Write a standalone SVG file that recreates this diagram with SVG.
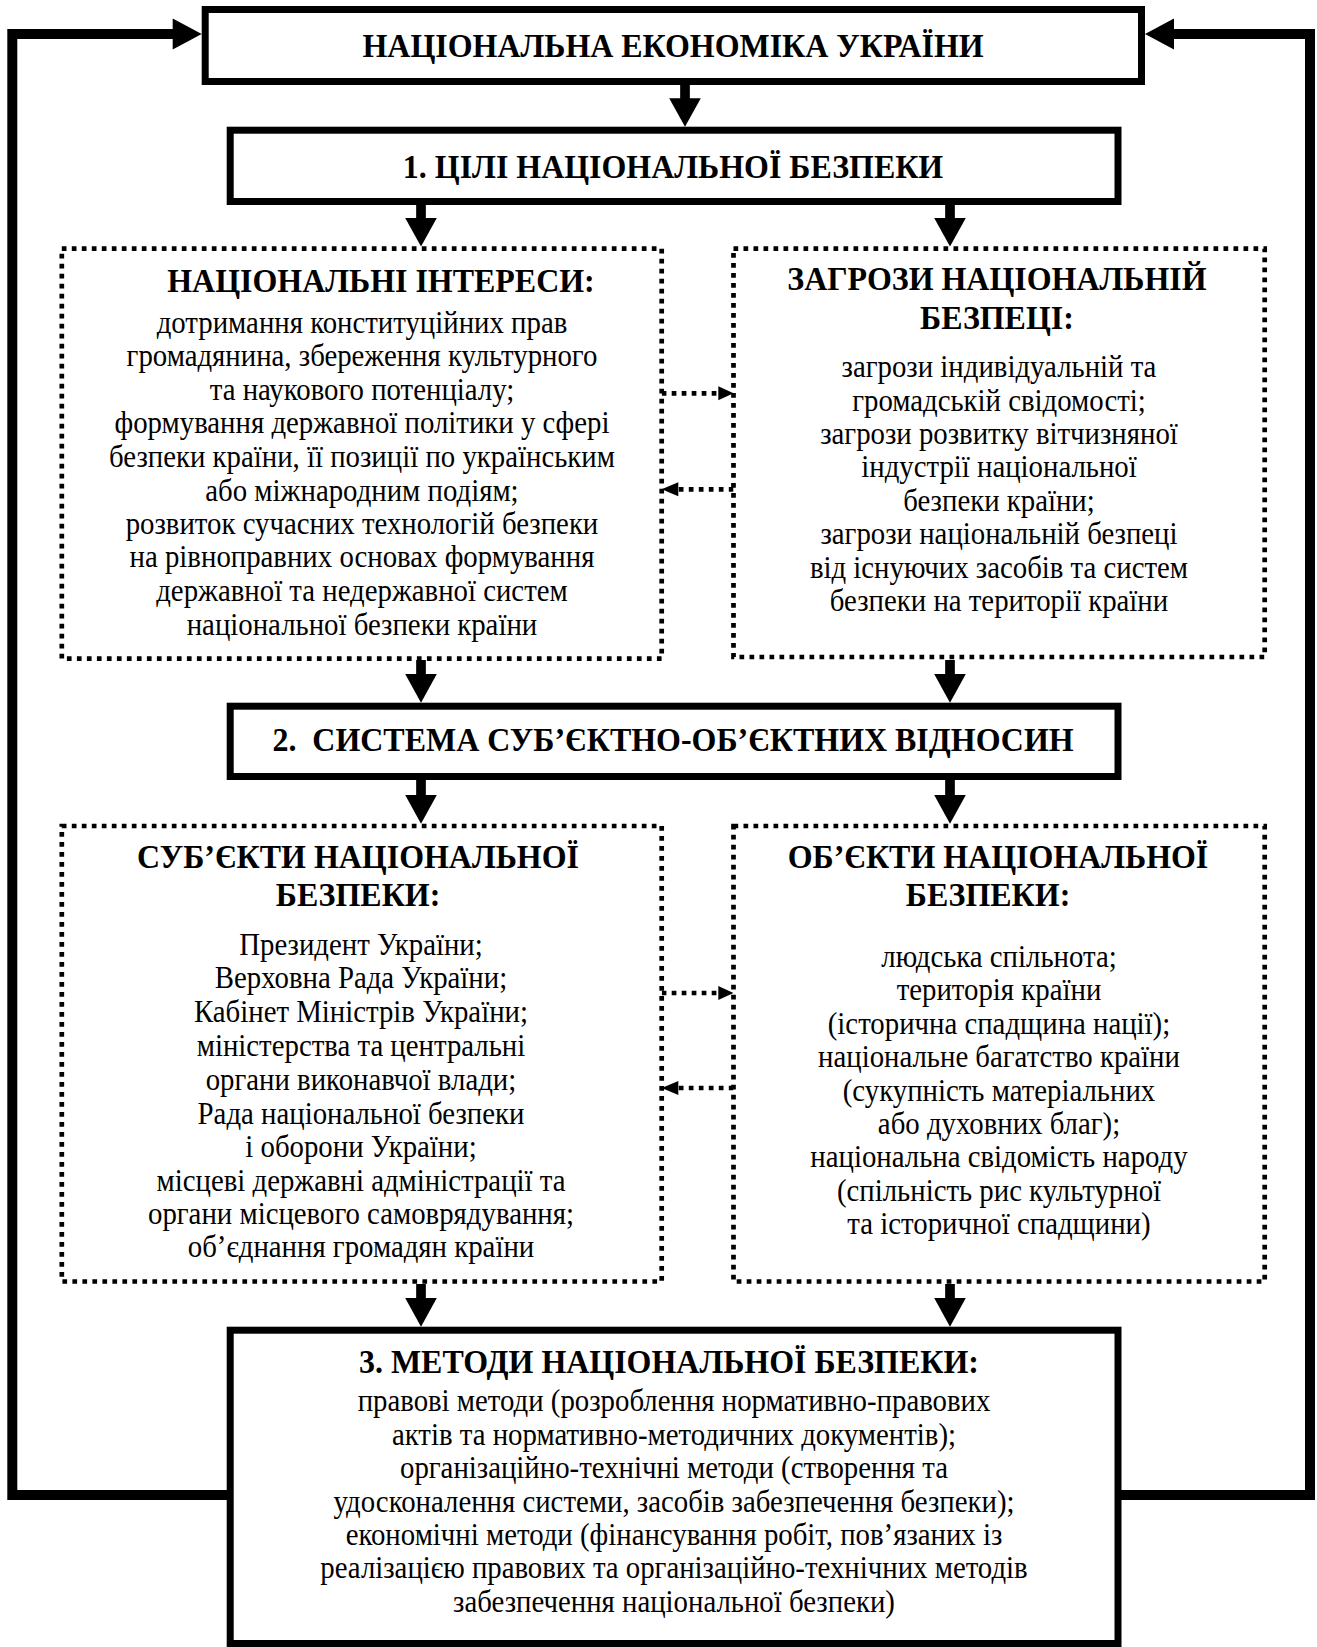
<svg xmlns="http://www.w3.org/2000/svg" width="1317" height="1647" viewBox="0 0 1317 1647">
  <style>
    .box { fill: #fff; stroke: #000; stroke-width: 7; }
    .dbox { fill: #fff; stroke: #000; stroke-width: 4.7; stroke-dasharray: 4.7 5.3; }
    .h { font-family: "Liberation Serif", "Times New Roman", serif; font-weight: bold; font-size: 34px; text-anchor: middle; fill: #000; }
    .t { font-family: "Liberation Serif", "Times New Roman", serif; font-size: 32px; text-anchor: middle; fill: #000; }
    .wire { fill: none; stroke: #000; stroke-width: 10; stroke-linejoin: miter; }
    .shaft { fill: none; stroke: #000; stroke-width: 9.7; }
    .dwire { fill: none; stroke: #000; stroke-width: 4.7; stroke-dasharray: 4.7 5.3; }
    .head { fill: #000; stroke: none; }
  </style>
  <rect width="1317" height="1647" fill="#fff"/>

  <!-- connectors -->
  <g id="connectors">
    <!-- feedback loops from the methods block back to the national economy -->
    <polyline class="wire" points="228,1495 12.3,1495 12.3,34 175,34"/>
    <polygon class="head" points="172.7,18.5 201.7,34 172.7,49.5"/>
    <polyline class="wire" points="1119,1495 1310,1495 1310,34 1172,34"/>
    <polygon class="head" points="1174,18.5 1145,34 1174,49.5"/>

    <!-- solid downward arrows -->
    <line class="shaft" x1="685" y1="84" x2="685" y2="100"/>
    <polygon class="head" points="669.2,98.2 700.8,98.2 685,126.7"/>

    <line class="shaft" x1="421" y1="204" x2="421" y2="220"/>
    <polygon class="head" points="405.2,218 436.8,218 421,246.5"/>
    <line class="shaft" x1="950" y1="204" x2="950" y2="220"/>
    <polygon class="head" points="934.2,218 965.8,218 950,246.5"/>

    <line class="shaft" x1="421" y1="660" x2="421" y2="676"/>
    <polygon class="head" points="405.2,674 436.8,674 421,702.7"/>
    <line class="shaft" x1="950" y1="660" x2="950" y2="676"/>
    <polygon class="head" points="934.2,674 965.8,674 950,702.7"/>

    <line class="shaft" x1="421" y1="779" x2="421" y2="797"/>
    <polygon class="head" points="405.2,795 436.8,795 421,823.7"/>
    <line class="shaft" x1="950" y1="779" x2="950" y2="797"/>
    <polygon class="head" points="934.2,795 965.8,795 950,823.7"/>

    <line class="shaft" x1="421" y1="1284" x2="421" y2="1300"/>
    <polygon class="head" points="405.2,1298 436.8,1298 421,1326.7"/>
    <line class="shaft" x1="950" y1="1284" x2="950" y2="1300"/>
    <polygon class="head" points="934.2,1298 965.8,1298 950,1326.7"/>

    <!-- dotted two-way links between paired blocks -->
    <line class="dwire" x1="661.7" y1="393.3" x2="719" y2="393.3"/>
    <polygon class="head" points="718.3,386.3 733.5,393.3 718.3,400.3"/>
    <line class="dwire" x1="733.5" y1="489.3" x2="677" y2="489.3"/>
    <polygon class="head" points="678.3,482.3 661.7,489.3 678.3,496.3"/>

    <line class="dwire" x1="661.7" y1="993" x2="719" y2="993"/>
    <polygon class="head" points="718.3,986 733.5,993 718.3,1000"/>
    <line class="dwire" x1="733.5" y1="1088" x2="677" y2="1088"/>
    <polygon class="head" points="678.3,1081 661.7,1088 678.3,1095"/>
  </g>

  <!-- national economy -->
  <g id="economy">
    <rect class="box" x="205.2" y="9.5" width="936.3" height="72"/>
    <g transform="scale(0.94 1)">
      <text class="h" x="716" y="57">НАЦІОНАЛЬНА ЕКОНОМІКА УКРАЇНИ</text>
    </g>
  </g>

  <!-- 1. goals -->
  <g id="goals">
    <rect class="box" x="230.2" y="130.2" width="887.8" height="71.3"/>
    <g transform="scale(0.94 1)">
      <text class="h" x="716" y="178">1. ЦІЛІ НАЦІОНАЛЬНОЇ БЕЗПЕКИ</text>
    </g>
  </g>

  <!-- national interests -->
  <g id="interests">
    <rect class="dbox" x="61.8" y="248.7" width="599.9" height="410"/>
    <g transform="scale(0.94 1)">
      <text class="h" x="405.3" y="292.5">НАЦІОНАЛЬНІ ІНТЕРЕСИ:</text>
    </g>
    <g transform="scale(0.9 1)">
      <text class="t" x="402.2" y="333">дотримання конституційних прав</text>
      <text class="t" x="402.2" y="366.5">громадянина, збереження культурного</text>
      <text class="t" x="402.2" y="400">та наукового потенціалу;</text>
      <text class="t" x="402.2" y="433.5">формування державної політики у сфері</text>
      <text class="t" x="402.2" y="467">безпеки країни, її позиції по українським</text>
      <text class="t" x="402.2" y="501">або міжнародним подіям;</text>
      <text class="t" x="402.2" y="534">розвиток сучасних технологій безпеки</text>
      <text class="t" x="402.2" y="567.5">на рівноправних основах формування</text>
      <text class="t" x="402.2" y="601">державної та недержавної систем</text>
      <text class="t" x="402.2" y="635">національної безпеки країни</text>
    </g>
  </g>

  <!-- threats -->
  <g id="threats">
    <rect class="dbox" x="733.5" y="248.7" width="531.2" height="408.3"/>
    <g transform="scale(0.94 1)">
      <text class="h" x="1060.6" y="290.5">ЗАГРОЗИ НАЦІОНАЛЬНІЙ</text>
      <text class="h" x="1060.6" y="329">БЕЗПЕЦІ:</text>
    </g>
    <g transform="scale(0.9 1)">
      <text class="t" x="1110" y="377.5">загрози індивідуальній та</text>
      <text class="t" x="1110" y="411">громадській свідомості;</text>
      <text class="t" x="1110" y="444.5">загрози розвитку вітчизняної</text>
      <text class="t" x="1110" y="477.5">індустрії національної</text>
      <text class="t" x="1110" y="511">безпеки країни;</text>
      <text class="t" x="1110" y="544.5">загрози національній безпеці</text>
      <text class="t" x="1110" y="578">від існуючих засобів та систем</text>
      <text class="t" x="1110" y="611.5">безпеки на території країни</text>
    </g>
  </g>

  <!-- 2. subject-object relations -->
  <g id="relations">
    <rect class="box" x="230.2" y="706.2" width="887.8" height="70.3"/>
    <g transform="scale(0.94 1)">
      <text class="h" x="716" y="751" xml:space="preserve">2.  СИСТЕМА СУБ’ЄКТНО-ОБ’ЄКТНИХ ВІДНОСИН</text>
    </g>
  </g>

  <!-- subjects -->
  <g id="subjects">
    <rect class="dbox" x="61.8" y="826" width="599.9" height="455.5"/>
    <g transform="scale(0.94 1)">
      <text class="h" x="380.9" y="868">СУБ’ЄКТИ НАЦІОНАЛЬНОЇ</text>
      <text class="h" x="380.9" y="906">БЕЗПЕКИ:</text>
    </g>
    <g transform="scale(0.9 1)">
      <text class="t" x="401.1" y="955">Президент України;</text>
      <text class="t" x="401.1" y="988.5">Верховна Рада України;</text>
      <text class="t" x="401.1" y="1022">Кабінет Міністрів України;</text>
      <text class="t" x="401.1" y="1056">міністерства та центральні</text>
      <text class="t" x="401.1" y="1090">органи виконавчої влади;</text>
      <text class="t" x="401.1" y="1124">Рада національної безпеки</text>
      <text class="t" x="401.1" y="1157.5">і оборони України;</text>
      <text class="t" x="401.1" y="1191">місцеві державні адміністрації та</text>
      <text class="t" x="401.1" y="1224.5">органи місцевого самоврядування;</text>
      <text class="t" x="401.1" y="1257.5">об’єднання громадян країни</text>
    </g>
  </g>

  <!-- objects -->
  <g id="objects">
    <rect class="dbox" x="733.5" y="826" width="531.2" height="455.5"/>
    <g transform="scale(0.94 1)">
      <text class="h" x="1061.7" y="868">ОБ’ЄКТИ НАЦІОНАЛЬНОЇ</text>
      <text class="h" x="1051.1" y="906">БЕЗПЕКИ:</text>
    </g>
    <g transform="scale(0.9 1)">
      <text class="t" x="1110" y="967.5">людська спільнота;</text>
      <text class="t" x="1110" y="1000.5">територія країни</text>
      <text class="t" x="1110" y="1034">(історична спадщина нації);</text>
      <text class="t" x="1110" y="1067.5">національне багатство країни</text>
      <text class="t" x="1110" y="1101">(сукупність матеріальних</text>
      <text class="t" x="1110" y="1134">або духовних благ);</text>
      <text class="t" x="1110" y="1167.5">національна свідомість народу</text>
      <text class="t" x="1110" y="1201">(спільність рис культурної</text>
      <text class="t" x="1110" y="1234.5">та історичної спадщини)</text>
    </g>
  </g>

  <!-- 3. methods -->
  <g id="methods">
    <rect class="box" x="230.2" y="1330.2" width="887.8" height="313.3"/>
    <g transform="scale(0.94 1)">
      <text class="h" x="711.7" y="1373">3. МЕТОДИ НАЦІОНАЛЬНОЇ БЕЗПЕКИ:</text>
    </g>
    <g transform="scale(0.9 1)">
      <text class="t" x="748.9" y="1411">правові методи (розроблення нормативно-правових</text>
      <text class="t" x="748.9" y="1445">актів та нормативно-методичних документів);</text>
      <text class="t" x="748.9" y="1478">організаційно-технічні методи (створення та</text>
      <text class="t" x="748.9" y="1512">удосконалення системи, засобів забезпечення безпеки);</text>
      <text class="t" x="748.9" y="1545">економічні методи (фінансування робіт, пов’язаних із</text>
      <text class="t" x="748.9" y="1578">реалізацією правових та організаційно-технічних методів</text>
      <text class="t" x="748.9" y="1612">забезпечення національної безпеки)</text>
    </g>
  </g>
</svg>
